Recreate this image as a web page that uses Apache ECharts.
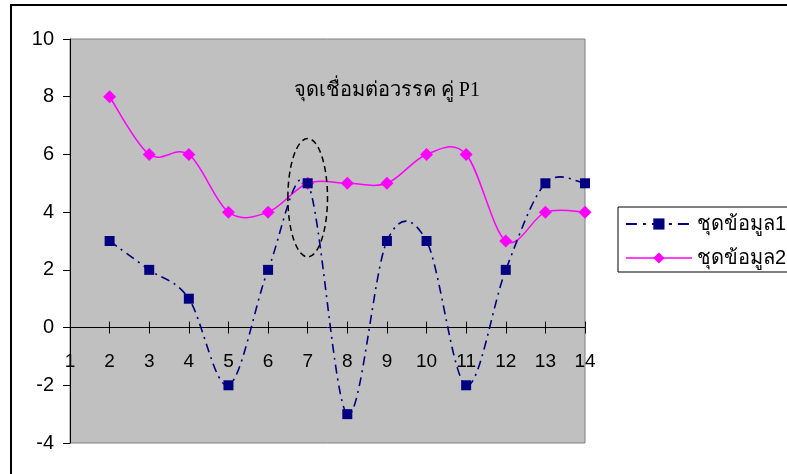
<!DOCTYPE html>
<html>
<head>
<meta charset="utf-8">
<script src="https://cdn.jsdelivr.net/npm/echarts@6/dist/echarts.min.js"></script>
<style>
  html, body { margin: 0; padding: 0; background: #fff; }
  #chart { width: 787px; height: 474px; }
</style>
</head>
<body>
<div id="chart"></div>
<script>
// x positions shared by both series
const xPositions = [2, 3, 4, 5, 6, 7, 8, 9, 10, 11, 12, 13, 14];
const series1Name = 'ชุดข้อมูล1';
const series1Values = [3, 2, 1, -2, 2, 5, -3, 3, 3, -2, 2, 5, 5];
const series2Name = 'ชุดข้อมูล2';
const series2Values = [8, 6, 6, 4, 4, 5, 5, 5, 6, 6, 3, 4, 4];

// axis ranges / ticks
const xRange = [1, 14];
const yRange = [-4, 10];
const yStep = 2;

// annotation: caption and the dashed ring around the joint point
const noteText = 'จุดเชื่อมต่อวรรค คู่ P1';
const noteAt = [9, 8.2];
const ringCenter = [7, 4.5];
const ringRadius = [0.5, 2.05];

const pair = (xs, ys) => xs.map((x, i) => [x, ys[i]]);

const navy = '#000080';
const magenta = '#FF00FF';
const dashDot = [9, 5, 2, 5];
const legendDashDot = [11, 6, 3, 6];

const chart = echarts.init(document.getElementById('chart'), null, { renderer: 'canvas' });

const labelFont = { fontFamily: 'Liberation Sans, Arial, sans-serif', fontSize: 19, color: '#000' };

// Smooth curve through the points (cardinal spline, 1/6 tangent), coordinates from the grid
function curveSeries(xs, ys, color, width, dash, z) {
  return {
    type: 'custom',
    coordinateSystem: 'cartesian2d',
    xAxisIndex: 0, yAxisIndex: 0,
    clip: false,
    silent: true,
    z: z,
    data: [[xs[0], ys[0]]],
    renderItem: function (params, api) {
      const p = xs.map((x, i) => api.coord([x, ys[i]]));
      const n = p.length;
      let d = 'M' + p[0][0] + ',' + p[0][1];
      for (let i = 0; i < n - 1; i++) {
        const a = p[i - 1] || p[i];
        const b = p[i];
        const c = p[i + 1];
        const e = p[i + 2] || p[i + 1];
        const c1x = b[0] + (c[0] - a[0]) / 6, c1y = b[1] + (c[1] - a[1]) / 6;
        const c2x = c[0] - (e[0] - b[0]) / 6, c2y = c[1] - (e[1] - b[1]) / 6;
        d += ' C' + c1x + ',' + c1y + ' ' + c2x + ',' + c2y + ' ' + c[0] + ',' + c[1];
      }
      return {
        type: 'path',
        shape: { pathData: d },
        style: { fill: 'none', stroke: color, lineWidth: width, lineDash: dash }
      };
    }
  };
}

const xAxisBase = {
  type: 'value', min: xRange[0], max: xRange[1], interval: 1,
  gridIndex: 0,
  position: 'bottom',
  splitLine: { show: false }
};

const option = {
  animation: false,
  backgroundColor: '#fff',
  grid: {
    left: 70, top: 39, right: 202, bottom: 31,
    outerBoundsMode: 'none',
    containLabel: false,
    show: true, backgroundColor: '#C0C0C0', borderColor: '#808080', borderWidth: 1
  },
  xAxis: [
    // zero line with ticks hanging below
    Object.assign({}, xAxisBase, {
      axisLine: { show: true, onZero: true, onZeroAxisIndex: 0, lineStyle: { color: '#000', width: 1 } },
      axisTick: { show: true, inside: false, length: 6, lineStyle: { color: '#000' } },
      axisLabel: { show: false }
    }),
    // upper half of the crossing ticks
    Object.assign({}, xAxisBase, {
      axisLine: { show: false, onZero: true, onZeroAxisIndex: 1 },
      axisTick: { show: true, inside: true, length: 6, lineStyle: { color: '#000' } },
      axisLabel: { show: false }
    }),
    // tick labels, moved up to the zero line once the grid is laid out
    Object.assign({}, xAxisBase, {
      axisLine: { show: false, onZero: false },
      axisTick: { show: false },
      axisLabel: Object.assign({ margin: 25 }, labelFont)
    })
  ],
  yAxis: [
    {
      type: 'value', min: yRange[0], max: yRange[1], interval: yStep,
      position: 'left',
      splitLine: { show: false },
      axisLine: { show: true, onZero: false, lineStyle: { color: '#000', width: 1 } },
      axisTick: { show: true, inside: false, length: 7, lineStyle: { color: '#000' } },
      axisLabel: Object.assign({ margin: 16 }, labelFont, { fontSize: 20 })
    },
    {
      type: 'value', min: yRange[0], max: yRange[1], interval: yStep,
      position: 'left',
      axisLine: { show: false, onZero: false },
      axisTick: { show: false },
      axisLabel: { show: false },
      splitLine: { show: false }
    }
  ],
  legend: {
    orient: 'vertical',
    left: 618, top: 207,
    padding: [7, 40, 4, 7],
    itemGap: 14,
    itemWidth: 66, itemHeight: 14,
    borderColor: '#000', borderWidth: 1,
    backgroundColor: '#fff',
    textStyle: { fontFamily: 'Liberation Sans, Arial, sans-serif', fontSize: 20, color: '#000' },
    data: [
      { name: series1Name, lineStyle: { color: navy, width: 1.8, type: legendDashDot, opacity: 1 } },
      { name: series2Name, lineStyle: { color: magenta, width: 1.5, type: 'solid', opacity: 1 } }
    ]
  },
  series: [
    {
      name: series1Name, type: 'line',
      data: pair(xPositions, series1Values),
      symbol: 'rect', symbolSize: 10,
      itemStyle: { color: navy },
      lineStyle: { color: navy, width: 1.6, type: dashDot, opacity: 0 },
      z: 4
    },
    {
      name: series2Name, type: 'line',
      data: pair(xPositions, series2Values),
      symbol: 'diamond', symbolSize: 13,
      itemStyle: { color: magenta },
      lineStyle: { color: magenta, width: 1.5, type: 'solid', opacity: 0 },
      z: 3
    },
    curveSeries(xPositions, series1Values, navy, 1.6, dashDot, 2),
    curveSeries(xPositions, series2Values, magenta, 1.5, null, 1)
  ]
};

chart.setOption(option);

// move the tick labels to sit under the zero line
const zeroY = chart.convertToPixel({ yAxisIndex: 0 }, 0);
const floorY = chart.convertToPixel({ yAxisIndex: 0 }, yRange[0]);
chart.setOption({ xAxis: [{}, {}, { offset: zeroY - floorY }] });

// place the caption, the dashed ring and the outer frame
const c = chart.convertToPixel({ gridIndex: 0 }, ringCenter);
const cx1 = chart.convertToPixel({ gridIndex: 0 }, [ringCenter[0] + ringRadius[0], ringCenter[1] + ringRadius[1]]);
const notePx = chart.convertToPixel({ gridIndex: 0 }, noteAt);

chart.setOption({
  graphic: [
    {
      type: 'rect', silent: true, z: 100,
      shape: { x: 11, y: 5, width: 800, height: 500 },
      style: { fill: null, stroke: '#000', lineWidth: 2 }
    },
    {
      type: 'ellipse', silent: true, z: 50,
      shape: { cx: c[0], cy: c[1], rx: Math.abs(cx1[0] - c[0]), ry: Math.abs(c[1] - cx1[1]) },
      style: { fill: null, stroke: '#000', lineWidth: 1.5, lineDash: [6, 4] }
    },
    {
      type: 'text', silent: true, z: 50,
      x: notePx[0], y: notePx[1],
      style: {
        text: noteText, fill: '#000',
        font: '20px "Liberation Serif", "Times New Roman", serif',
        align: 'center', verticalAlign: 'middle'
      }
    }
  ]
});
</script>
</body>
</html>
